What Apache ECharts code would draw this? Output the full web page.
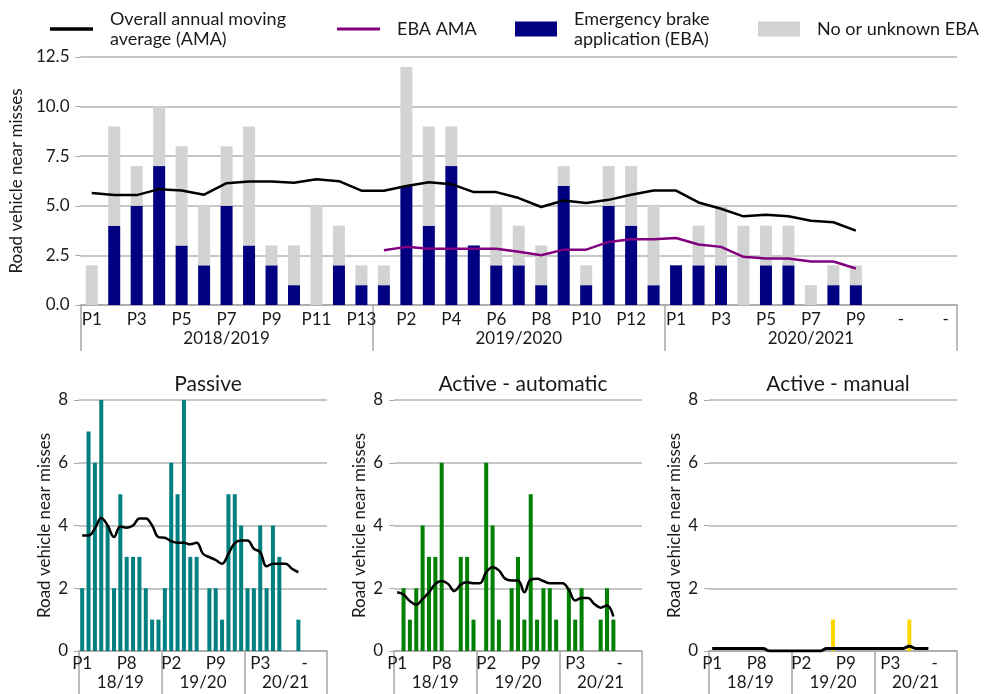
<!DOCTYPE html>
<html>
<head>
<meta charset="utf-8">
<script src="https://cdn.jsdelivr.net/npm/echarts@6/dist/echarts.min.js"></script>
<style>
html,body{margin:0;padding:0;background:#fff;}
#chart{width:984px;height:694px;}
</style>
</head>
<body>
<div id="chart"></div>
<script>
// ---------- DATA ----------
const periods = ['P1','P2','P3','P4','P5','P6','P7','P8','P9','P10','P11','P12','P13',
                 'P1','P2','P3','P4','P5','P6','P7','P8','P9','P10','P11','P12','P13',
                 'P1','P2','P3','P4','P5','P6','P7','P8','P9','-','-','-','-'];
const yearsLong = ['2018/2019','2019/2020','2020/2021'];
const yearsShort = ['18/19','19/20','20/21'];

const ebaCounts   = [0,4,5,7,3,2,5,3,2,1,0,2,1, 1,6,4,7,3,2,2,1,6,1,5,4,1, 2,2,2,0,2,2,0,1,1];
const noEbaCounts = [2,5,2,3,5,3,3,6,1,2,5,2,1, 1,6,5,2,0,3,2,2,1,1,2,3,4, 0,2,3,4,2,2,1,1,1];
const overallAma  = [5.64,5.54,5.54,5.84,5.77,5.56,6.14,6.22,6.22,6.16,6.34,6.24,5.76,
                     5.76,6.00,6.19,6.09,5.69,5.69,5.39,4.94,5.27,5.14,5.30,5.56,5.77,
                     5.77,5.17,4.85,4.47,4.55,4.47,4.25,4.17,3.75];
const ebaAma      = [null,null,null,null,null,null,null,null,null,null,null,null,null,
                     2.76,2.93,2.84,2.84,2.84,2.84,2.68,2.51,2.79,2.79,3.18,3.31,3.31,
                     3.38,3.05,2.93,2.43,2.34,2.34,2.19,2.19,1.84];

const passive     = [2,7,6,8,4,2,5,3,3,3,2,1,1, 2,6,5,8,3,3,0,2,2,1,5,5,4, 2,2,4,2,4,3,0,0,1];
const passiveAma  = [3.68,3.68,3.90,4.24,4.00,3.63,3.97,3.93,4.00,4.22,4.22,4.00,3.63,
                     3.61,3.50,3.45,3.45,3.40,3.45,3.10,2.99,2.90,2.78,3.10,3.44,3.52,
                     3.52,3.26,3.15,2.70,2.78,2.78,2.78,2.62,2.51];
const automatic   = [0,2,1,2,4,3,3,6,0,0,3,3,1, 0,6,4,1,0,2,3,1,5,1,2,2,1, 0,2,1,2,0,0,1,2,1];
const automaticAma= [1.87,1.80,1.59,1.48,1.66,1.87,2.14,2.23,2.14,1.91,2.12,2.19,2.16,
                     2.16,2.51,2.67,2.57,2.30,2.25,2.25,1.87,2.28,2.30,2.23,2.16,2.16,
                     2.16,1.95,1.61,1.69,1.69,1.50,1.38,1.45,1.10];
const manual      = [0,0,0,0,0,0,0,0,0,0,0,0,0, 0,0,0,0,0,0,1,0,0,0,0,0,0, 0,0,0,0,0,1,0,0,0];
const manualAma   = [0.077,0.077,0.077,0.077,0.077,0.077,0.077,0.077,0.077,0,0,0,0,
                     0,0,0,0,0,0.077,0.077,0.077,0.077,0.077,0.077,0.077,0.077,
                     0.077,0.077,0.077,0.077,0.077,0.154,0.077,0.077,0.077];

const panelTitles = ['Passive','Active - automatic','Active - manual'];
const yTitle = 'Road vehicle near misses';

// ---------- STYLE ----------
const FONT = 'Lato';
const TXT = '#1a1a1a';
const GRIDC = '#b3b3b3';
const AXC = '#a6a6a6';

const grids = [
  {left:80, right:27, top:57, height:248},
  {left:79, width:248, top:400, height:251},
  {left:394, width:248, top:400, height:251},
  {left:709, width:248, top:400, height:251}
];

function catAxis(gi, big){
  return {
    type:'category', gridIndex:gi, data:periods, boundaryGap:true,
    axisLine:{show:true, lineStyle:{color:AXC, width:1.5}},
    axisTick:{show:false},
    axisLabel:{interval: big?1:6, margin: big?6:4, color:TXT, fontFamily:FONT, fontSize:17}
  };
}
function yearAxis(gi, big){
  return {
    type:'category', gridIndex:gi, data: big?yearsLong:yearsShort, position:'bottom', boundaryGap:true,
    axisLine:{show:false},
    axisTick:{show:true, interval:0, length:46, lineStyle:{color:AXC, width:1.5}},
    axisLabel:{interval:0, margin: big?25:23, color:TXT, fontFamily:FONT, fontSize:17}
  };
}
function valAxis(gi, big){
  return {
    type:'value', gridIndex:gi, min:0, max: big?12.5:8, interval: big?2.5:2,
    name: yTitle, nameLocation:'middle', nameGap: big?52:26,
    nameTextStyle:{color:TXT, fontFamily:FONT, fontSize:17},
    axisLine:{show:false},
    axisTick:{show:true, length:5, lineStyle:{color:AXC, width:1}},
    axisLabel:{margin:11, color:TXT, fontFamily:FONT, fontSize:17,
               formatter: big ? (v => v.toFixed(1)) : (v => String(v))},
    splitLine:{show:true, lineStyle:{color:GRIDC, width:1.5}}
  };
}

const xAxes = [], yAxes = [];
for (let g=0; g<4; g++){
  const big = g===0;
  xAxes.push(catAxis(g,big));
  xAxes.push(yearAxis(g,big));
  yAxes.push(valAxis(g,big));
}

const series = [
  {name:'Emergency brake application (EBA)', type:'bar', stack:'t', xAxisIndex:0, yAxisIndex:0,
   data:ebaCounts, barWidth:12, itemStyle:{color:'#000080'}},
  {name:'No or unknown EBA', type:'bar', stack:'t', xAxisIndex:0, yAxisIndex:0,
   data:noEbaCounts, barWidth:12, itemStyle:{color:'#d3d3d3'}},
  {name:'Overall annual moving\naverage (AMA)', type:'line', xAxisIndex:0, yAxisIndex:0,
   data:overallAma, showSymbol:false, lineStyle:{color:'#000', width:2.5}, itemStyle:{color:'#000'}, z:5},
  {name:'EBA AMA', type:'line', xAxisIndex:0, yAxisIndex:0,
   data:ebaAma, showSymbol:false, lineStyle:{color:'#800080', width:2.5}, itemStyle:{color:'#800080'}, z:5},

  {name:'Passive', type:'bar', xAxisIndex:2, yAxisIndex:1, data:passive, barWidth:4, itemStyle:{color:'#008080'}},
  {name:'Passive AMA', type:'line', xAxisIndex:2, yAxisIndex:1, data:passiveAma, smooth:0.4, showSymbol:false,
   lineStyle:{color:'#000', width:2.5}, z:5},
  {name:'Automatic', type:'bar', xAxisIndex:4, yAxisIndex:2, data:automatic, barWidth:4, itemStyle:{color:'#008000'}},
  {name:'Automatic AMA', type:'line', xAxisIndex:4, yAxisIndex:2, data:automaticAma, smooth:0.4, showSymbol:false,
   lineStyle:{color:'#000', width:2.5}, z:5},
  {name:'Manual', type:'bar', xAxisIndex:6, yAxisIndex:3, data:manual, barWidth:4, itemStyle:{color:'#ffd700'}},
  {name:'Manual AMA', type:'line', xAxisIndex:6, yAxisIndex:3, data:manualAma, smooth:0.4, showSymbol:false,
   lineStyle:{color:'#000', width:3}, z:5}
];

const legTxt = {color:TXT, fontFamily:FONT, fontSize:18, lineHeight:20, padding:[0,0,0,12]};
const legBase = {icon:'rect', padding:0, textStyle:legTxt, selectedMode:false};
const legends = [
  Object.assign({data:['Overall annual moving\naverage (AMA)'], left:50, top:9, itemWidth:43, itemHeight:3.5}, legBase),
  Object.assign({data:['EBA AMA'], left:337, top:19, itemWidth:43, itemHeight:3}, legBase),
  Object.assign({data:['Emergency brake application (EBA)'], left:515, top:9, itemWidth:42, itemHeight:15,
   formatter: () => 'Emergency brake\napplication (EBA)'}, legBase),
  Object.assign({data:['No or unknown EBA'], left:758, top:19, itemWidth:42, itemHeight:15}, legBase)
];

const titles = [
  {text:panelTitles[0], left:203, top:369, textAlign:'center'},
  {text:panelTitles[1], left:518, top:369, textAlign:'center'},
  {text:panelTitles[2], left:833, top:369, textAlign:'center'}
].map(t => Object.assign(t, {textStyle:{color:TXT, fontFamily:FONT, fontSize:21, fontWeight:'normal'}}));

const chart = echarts.init(document.getElementById('chart'), null, {renderer:'canvas'});
chart.setOption({
  animation:false,
  backgroundColor:'#fff',
  title:titles,
  legend:legends,
  grid:grids,
  xAxis:xAxes,
  yAxis:yAxes,
  series:series
});
</script>
</body>
</html>
